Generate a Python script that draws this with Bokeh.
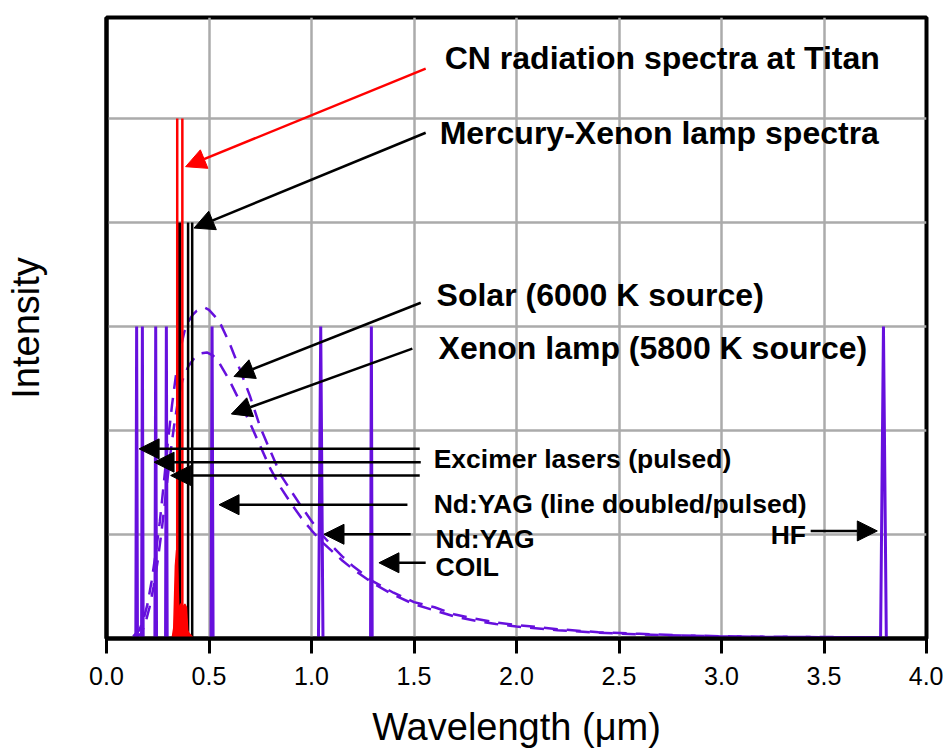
from bokeh.plotting import figure
from bokeh.models import Range1d, FixedTicker, Arrow, NormalHead, PrintfTickFormatter
from bokeh.core.properties import value
from bokeh.embed import file_html
from bokeh.resources import INLINE

# ---------------- data ----------------
# laser lines (purple)
laser_center = [0.147, 0.175, 0.240, 0.292, 0.515, 1.045, 1.292, 3.790]
laser_height = [3.0, 3.0, 3.0, 3.0, 3.0, 3.0, 3.0, 3.0]
laser_halfwidth = [0.004, 0.004, 0.004, 0.004, 0.005, 0.011, 0.004, 0.014]

# Mercury-Xenon lamp lines (black)
hgxe_center = [0.352, 0.398, 0.418]
hgxe_height = [4.0, 4.0, 4.0]

# CN radiation at Titan (red)
cn_center = [0.345, 0.370]
cn_height = [5.0, 5.0]
cn_band_x = [0.320, 0.328, 0.336, 0.342, 0.348, 0.354, 0.360, 0.366, 0.374, 0.382, 0.390, 0.396, 0.402, 0.412, 0.425]
cn_band_y = [0.0, 0.10, 0.70, 0.85, 0.60, 0.20, 0.32, 0.34, 0.30, 0.33, 0.30, 0.08, 0.05, 0.03, 0.0]

# Solar (6000 K source) curve
solar_x = [0.13, 0.16, 0.18, 0.20, 0.22, 0.24, 0.26, 0.28, 0.30, 0.32, 0.34, 0.36, 0.38, 0.40,
           0.42, 0.44, 0.46, 0.48, 0.50, 0.55, 0.60, 0.65, 0.70, 0.75, 0.80, 0.85, 0.90, 0.95,
           1.00, 1.05, 1.10, 1.15, 1.20, 1.30, 1.40, 1.50, 1.60, 1.70, 1.80, 1.90, 2.00, 2.20,
           2.40, 2.60, 2.80, 3.00, 3.20, 3.40, 3.60, 3.78]
solar_y = [0.02, 0.08, 0.18, 0.33, 0.55, 0.82, 1.12, 1.50, 1.90, 2.25, 2.55, 2.78, 2.95, 3.05,
           3.11, 3.15, 3.17, 3.18, 3.16, 3.05, 2.84, 2.59, 2.33, 2.03, 1.80, 1.57, 1.42, 1.27,
           1.13, 1.00, 0.89, 0.79, 0.70, 0.55, 0.44, 0.35, 0.30, 0.23, 0.19, 0.155, 0.13, 0.09,
           0.06, 0.045, 0.03, 0.022, 0.018, 0.015, 0.013, 0.012]

# Xenon lamp (5800 K source) curve
xenon_x = [0.14, 0.17, 0.19, 0.21, 0.23, 0.25, 0.27, 0.29, 0.31, 0.33, 0.35, 0.37, 0.40, 0.43,
           0.46, 0.49, 0.52, 0.55, 0.60, 0.65, 0.70, 0.75, 0.80, 0.85, 0.90, 0.95, 1.00, 1.05,
           1.10, 1.15, 1.20, 1.30, 1.40, 1.50, 1.60, 1.70, 1.80, 1.90, 2.00, 2.20, 2.40, 2.60,
           2.80, 3.00, 3.20, 3.40, 3.60, 3.78]
xenon_y = [0.0, 0.05, 0.15, 0.30, 0.50, 0.75, 1.05, 1.40, 1.75, 2.05, 2.30, 2.48, 2.62, 2.70,
           2.74, 2.75, 2.72, 2.65, 2.48, 2.28, 2.07, 1.85, 1.63, 1.45, 1.30, 1.16, 1.04, 0.93,
           0.84, 0.75, 0.67, 0.53, 0.42, 0.33, 0.27, 0.21, 0.17, 0.14, 0.115, 0.08, 0.055, 0.04,
           0.028, 0.02, 0.016, 0.014, 0.012, 0.011]

x_ticks = [0.0, 0.5, 1.0, 1.5, 2.0, 2.5, 3.0, 3.5, 4.0]
y_grid = [1, 2, 3, 4, 5]

# annotations: text, left x, middle y
big_labels = ["CN radiation spectra at Titan", "Mercury-Xenon lamp spectra",
              "Solar (6000 K source)", "Xenon lamp (5800 K source)"]
big_label_x = [1.650, 1.625, 1.610, 1.620]
big_label_y = [5.578, 4.859, 3.298, 2.790]

small_labels = ["Excimer lasers (pulsed)", "Nd:YAG (line doubled/pulsed)", "Nd:YAG", "COIL", "HF"]
small_label_x = [1.596, 1.596, 1.605, 1.605, 3.240]
small_label_y = [1.727, 1.296, 0.961, 0.683, 0.999]

# arrows: start -> end
arrow_x0 = [1.557, 1.557, 1.533, 1.492, 1.528, 1.533, 1.528, 1.468, 1.484, 1.557, 3.435]
arrow_y0 = [5.479, 4.862, 3.228, 2.787, 1.823, 1.695, 1.567, 1.286, 1.002, 0.728, 1.034]
arrow_x1 = [0.386, 0.427, 0.622, 0.609, 0.159, 0.232, 0.313, 0.549, 1.061, 1.329, 3.760]
arrow_y1 = [4.536, 3.946, 2.519, 2.158, 1.823, 1.695, 1.567, 1.286, 1.002, 0.728, 1.034]
arrow_color = ["red"] + ["black"] * 10

PURPLE = "#6610dd"

p = figure(width=943, height=750, output_backend="svg", toolbar_location=None,
           x_range=Range1d(0, 4), y_range=Range1d(0, 5.97),
           min_border_left=106, min_border_right=17, min_border_top=17, min_border_bottom=110)
p.background_fill_color = "white"
p.border_fill_color = "white"
p.outline_line_color = "black"
p.outline_line_width = 4

# grid
p.xgrid.ticker = FixedTicker(ticks=[0.5, 1.0, 1.5, 2.0, 2.5, 3.0, 3.5])
p.ygrid.ticker = FixedTicker(ticks=y_grid)
for g in (p.xgrid[0], p.ygrid[0]):
    g.grid_line_color = "#ababab"
    g.grid_line_width = 2.5

# axes
p.xaxis.ticker = FixedTicker(ticks=x_ticks)
p.xaxis.formatter = PrintfTickFormatter(format="%.1f")
p.xaxis.axis_line_width = 4
p.xaxis.major_tick_line_width = 3
p.xaxis.major_tick_out = 15
p.xaxis.major_tick_in = 0
p.xaxis.minor_tick_line_color = None
p.xaxis.major_label_text_font = "Liberation Sans"
p.xaxis.major_label_text_font_size = "25px"
p.xaxis.major_label_text_color = "black"
p.xaxis.major_label_standoff = 13
p.xaxis.axis_label = "Wavelength (\u03bcm)"
p.xaxis.axis_label_text_font = "Liberation Sans"
p.xaxis.axis_label_text_font_style = "normal"
p.xaxis.axis_label_text_font_size = "38px"
p.xaxis.axis_label_text_color = "black"
p.xaxis.axis_label_standoff = 18

p.yaxis.ticker = FixedTicker(ticks=[])
p.yaxis.axis_line_width = 4
p.yaxis.major_tick_out = 0
p.yaxis.major_tick_in = 0
p.yaxis.minor_tick_line_color = None
p.yaxis.axis_label = "Intensity"
p.yaxis.axis_label_text_font = "Liberation Sans"
p.yaxis.axis_label_text_font_style = "normal"
p.yaxis.axis_label_text_font_size = "38px"
p.yaxis.axis_label_text_color = "black"
p.yaxis.axis_label_standoff = 60

# dashed blackbody curves
p.line(solar_x, solar_y, line_color=PURPLE, line_width=2.5, line_dash="14 9")
p.line(xenon_x, xenon_y, line_color=PURPLE, line_width=2.5, line_dash="14 9")

# laser lines as narrow peaks
laser_xs = [[c - w, c, c + w] for c, w in zip(laser_center, laser_halfwidth)]
laser_ys = [[0, h, 0] for h in laser_height]
p.multi_line(laser_xs, laser_ys, line_color=PURPLE, line_width=3)

# Mercury-Xenon lines
p.segment(x0=hgxe_center, y0=[0] * len(hgxe_center), x1=hgxe_center, y1=hgxe_height,
          line_color="black", line_width=[5, 2.5, 2.5])

# CN spectrum
p.patch(cn_band_x, cn_band_y, fill_color="red", line_color="red", line_width=1.5)
p.segment(x0=cn_center, y0=[0] * len(cn_center), x1=cn_center, y1=cn_height,
          line_color="red", line_width=2.5)

# arrows
for x0, y0, x1, y1, c in zip(arrow_x0, arrow_y0, arrow_x1, arrow_y1, arrow_color):
    p.add_layout(Arrow(x_start=x0, y_start=y0, x_end=x1, y_end=y1, line_color=c, line_width=2.5,
                       end=NormalHead(size=20, fill_color=c, line_color=c, line_width=1)))

# labels
p.text(big_label_x, big_label_y, text=big_labels, text_font=value("Liberation Sans"),
       text_font_style="bold", text_font_size="32px", text_baseline="middle",
       text_align="left", text_color="black")
p.text(small_label_x, small_label_y, text=small_labels, text_font=value("Liberation Sans"),
       text_font_style="bold", text_font_size="26.5px", text_baseline="middle",
       text_align="left", text_color="black")

open("out.html", "w").write(file_html(p, INLINE))
